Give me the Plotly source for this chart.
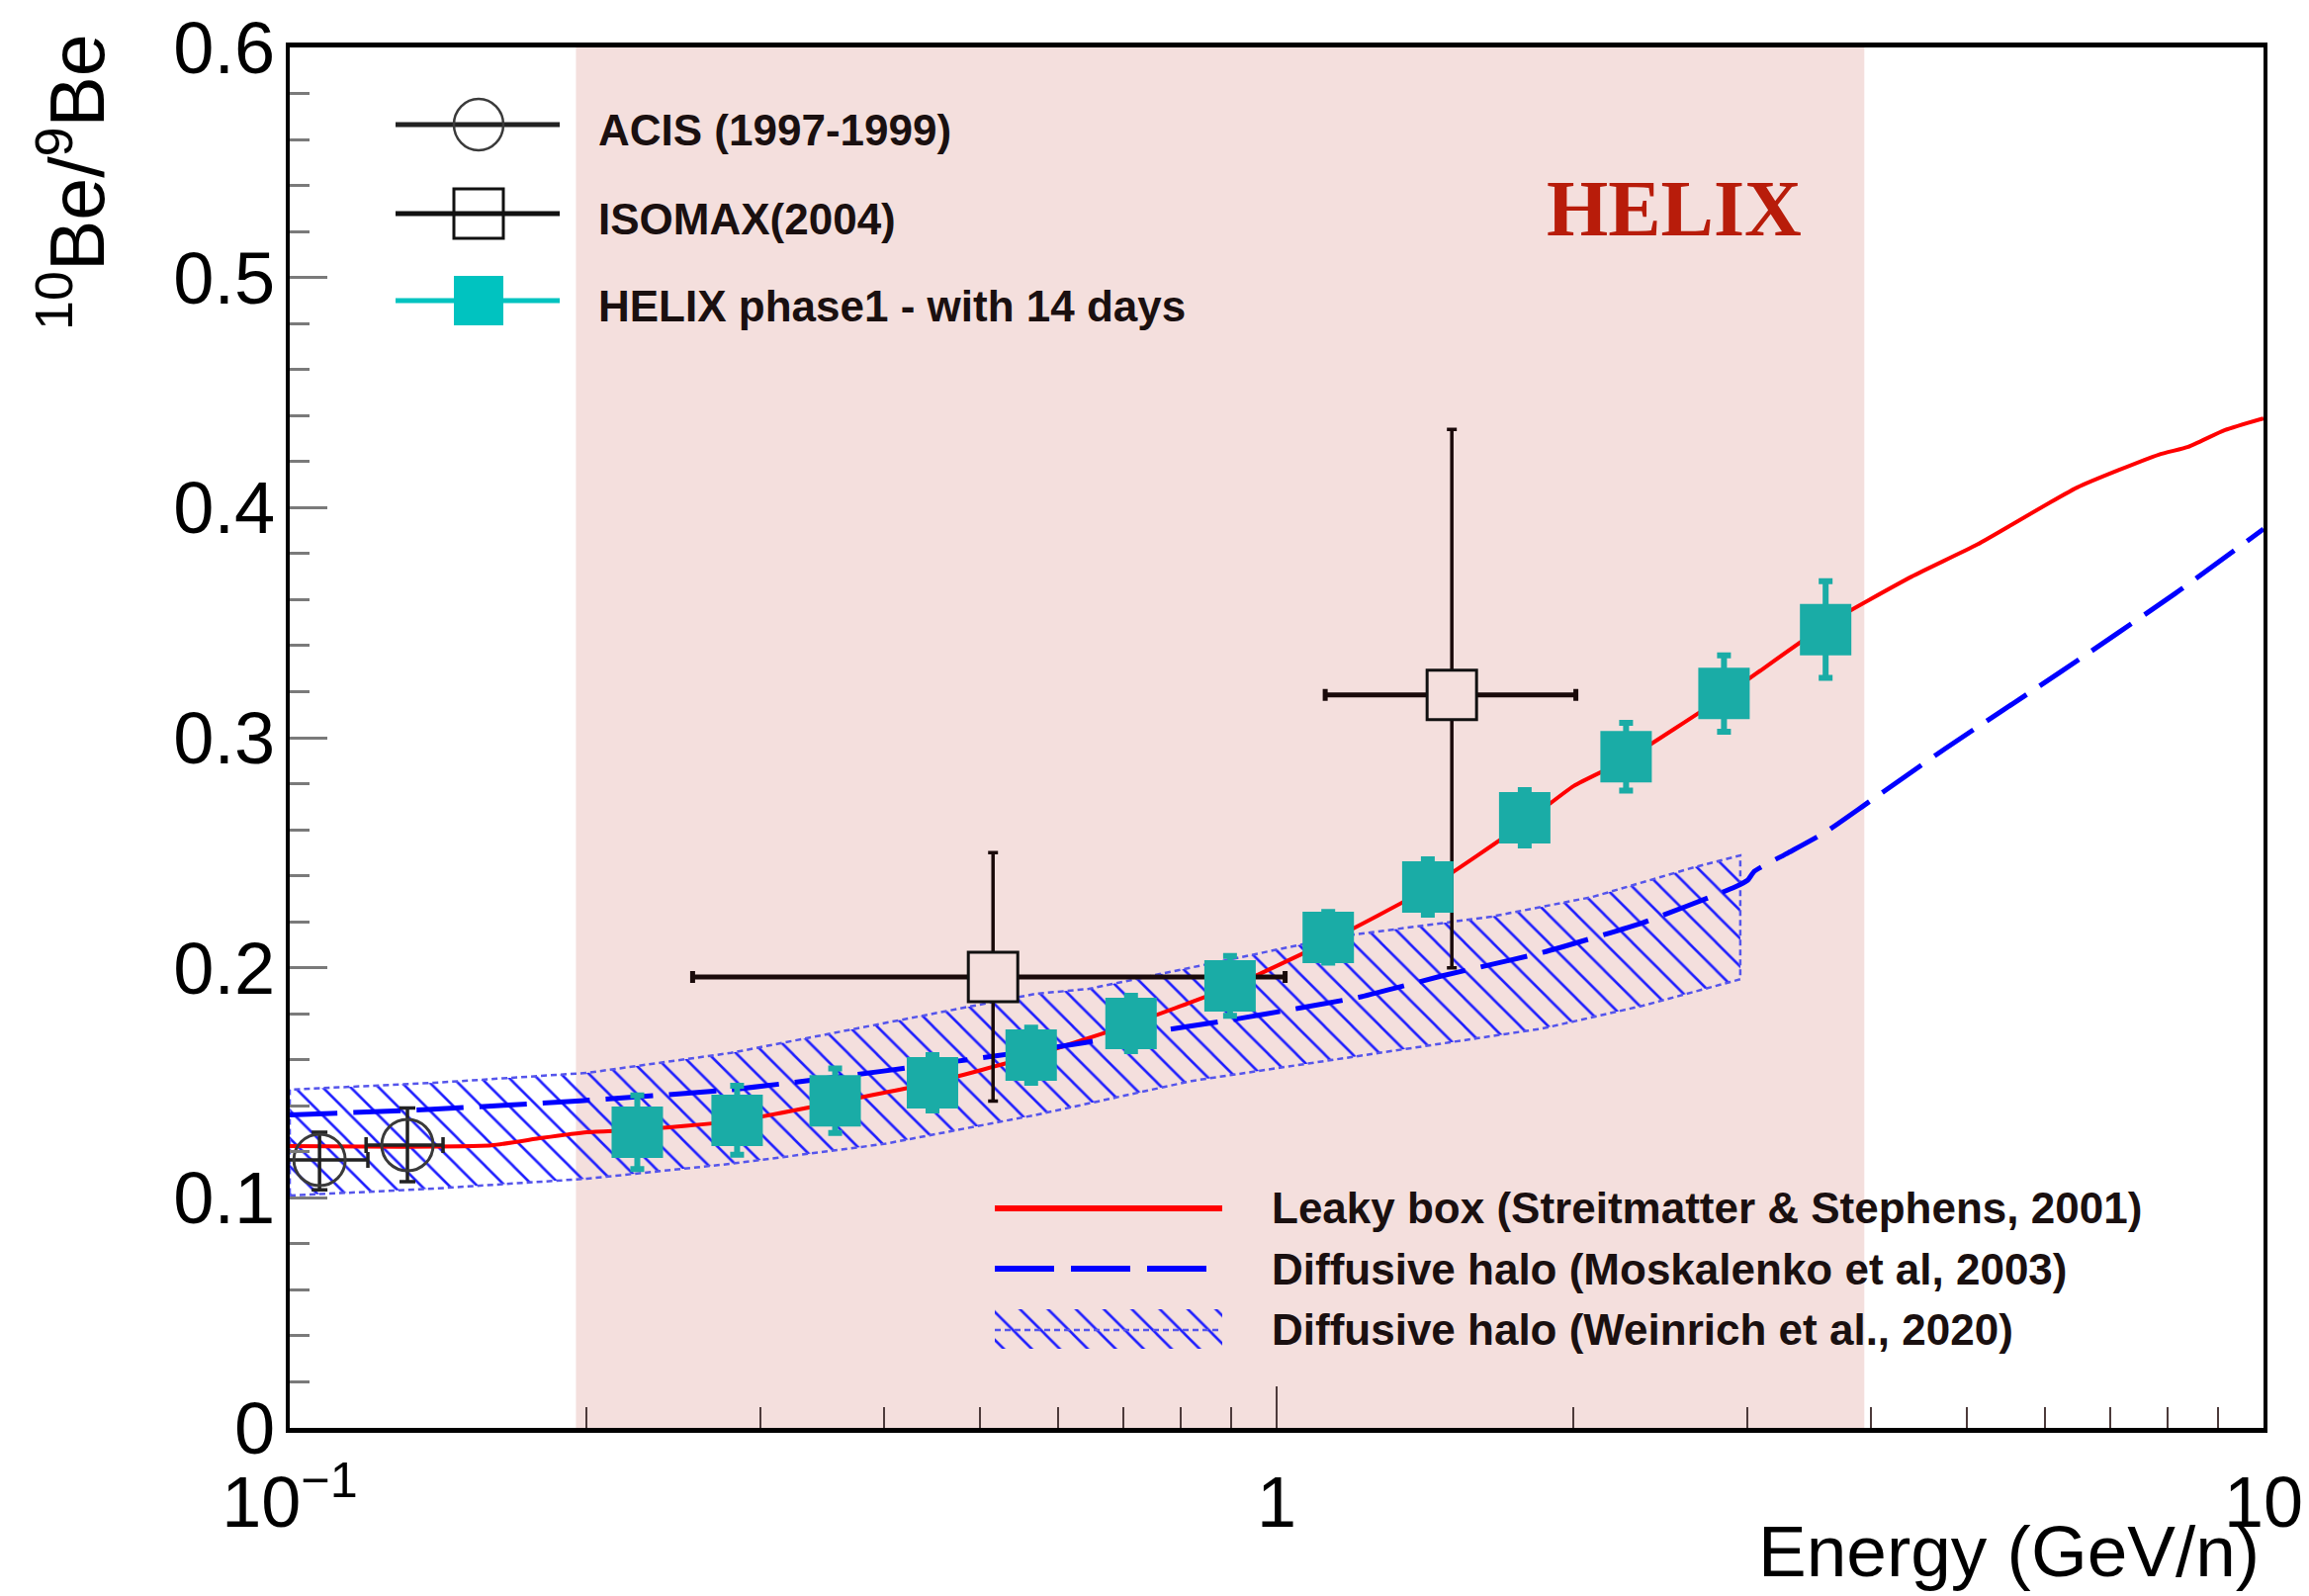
import plotly.graph_objects as go

# ---------------- data ----------------
helix_E = [0.225, 0.284, 0.357, 0.448, 0.564, 0.712, 0.897, 1.128, 1.423, 1.784, 2.26, 2.84, 3.60]
helix_R = [0.1285, 0.1337, 0.1422, 0.150, 0.162, 0.1758, 0.1921, 0.2132, 0.2351, 0.2652, 0.2917, 0.3192, 0.347]
helix_err = [0.016, 0.015, 0.014, 0.012, 0.012, 0.012, 0.013, 0.011, 0.012, 0.012, 0.0147, 0.0166, 0.021]

acis_E = [0.1072, 0.1316]
acis_R = [0.1165, 0.1229]
acis_Rlo = [0.1035, 0.107]
acis_Rhi = [0.1285, 0.139]
acis_Elo = [0.0944, 0.1195]
acis_Ehi = [0.120, 0.143]

isomax_E = [0.516, 1.505]
isomax_R = [0.196, 0.3186]
isomax_Rlo = [0.142, 0.200]
isomax_Rhi = [0.250, 0.434]
isomax_Elo = [0.256, 1.12]
isomax_Ehi = [1.02, 2.01]

leaky_E = [0.1, 0.13, 0.16, 0.18, 0.2, 0.225, 0.284, 0.357, 0.448, 0.564, 0.712, 0.897, 1.128,
           1.423, 1.784, 2.0, 2.26, 2.84, 3.6, 4.4, 5.13, 6.47, 7.83, 8.39, 9.14, 10.0]
leaky_R = [0.1225, 0.1222, 0.1228, 0.126, 0.1285, 0.1295, 0.1335, 0.1415, 0.150, 0.1615, 0.1755,
           0.1915, 0.2115, 0.2345, 0.263, 0.279, 0.2905, 0.318, 0.349, 0.370, 0.384, 0.4087,
           0.423, 0.4264, 0.4337, 0.4388]

mosk_E = [0.1, 0.138, 0.197, 0.28, 0.398, 0.567, 0.72, 0.918, 1.218, 1.469, 1.861, 2.35, 2.91,
          3.0, 3.05, 3.3, 3.6, 3.98, 4.76, 6.22, 8.14, 10.0]
mosk_R = [0.136, 0.1384, 0.1422, 0.147, 0.155, 0.164, 0.171, 0.178, 0.1874, 0.1964, 0.2067,
          0.2196, 0.235, 0.238, 0.242, 0.250, 0.259, 0.272, 0.2953, 0.3284, 0.3627, 0.3907]

wein_lo_E = [0.1, 0.14, 0.2, 0.28, 0.4, 0.57, 0.82, 1.3, 1.86, 2.35, 2.95]
wein_lo_R = [0.101, 0.104, 0.1083, 0.1148, 0.1234, 0.136, 0.1508, 0.1637, 0.1736, 0.1835, 0.195]
wein_hi_E = [0.1, 0.14, 0.2, 0.28, 0.4, 0.57, 0.645, 1.16, 1.65, 2.09, 2.65, 2.95]
wein_hi_R = [0.147, 0.150, 0.1543, 0.163, 0.1758, 0.1887, 0.1908, 0.2136, 0.2222, 0.2308, 0.2437, 0.2488]

helix_range = [0.195, 3.94]
y_range = [0.0, 0.6]

x_tickvals = [0.1, 1, 10]
x_ticktext = ["10<sup>\u22121</sup>", "1", "10"]
x_minor = [0.2, 0.3, 0.4, 0.5, 0.6, 0.7, 0.8, 0.9, 2, 3, 4, 5, 6, 7, 8, 9]

# ---------------- styles ----------------
SHADE = "#f4dfdd"
TEAL = "#1aaca6"
TEAL_LEG = "#00c3c0"
HATCH = "rgb(30,30,255)"
HATCH_EDGE = "rgb(85,85,235)"
FONT = "Liberation Sans, Arial, Helvetica, sans-serif"
TXT = "#1a1010"

W, H = 2335, 1614
L, R, T, B = 293, 2289, 48, 1444


def fx(px):
    return (px - L) / (R - L)


def fy(py):
    return (B - py) / (B - T)


PATTERN = dict(shape="\\", fgcolor=HATCH, bgcolor="rgba(0,0,0,0)",
               size=20, solidity=0.13, fillmode="overlay", fgopacity=1)

fig = go.Figure()

# HELIX energy band shading
fig.add_trace(go.Scatter(
    x=[helix_range[0], helix_range[1], helix_range[1], helix_range[0], helix_range[0]],
    y=[y_range[0], y_range[0], y_range[1], y_range[1], y_range[0]],
    mode="lines", fill="toself", fillcolor=SHADE, line=dict(width=0),
    hoverinfo="skip", showlegend=False))

# Weinrich band (hatched)
band_x = wein_lo_E + wein_hi_E[::-1] + [wein_lo_E[0]]
band_y = wein_lo_R + wein_hi_R[::-1] + [wein_lo_R[0]]
fig.add_trace(go.Scatter(
    x=band_x, y=band_y, mode="lines", fill="toself",
    fillcolor="rgba(0,0,0,0)", fillpattern=PATTERN,
    line=dict(color=HATCH_EDGE, width=2.5, dash="6px,4px"),
    hoverinfo="skip", showlegend=False))

# Leaky box
fig.add_trace(go.Scatter(
    x=leaky_E, y=leaky_R, mode="lines",
    line=dict(color="#ff0000", width=4, shape="spline", smoothing=0.5),
    showlegend=False))

# Moskalenko diffusive halo
fig.add_trace(go.Scatter(
    x=mosk_E, y=mosk_R, mode="lines",
    line=dict(color="#0000ff", width=5, dash="48px,16px", shape="spline", smoothing=0.5),
    showlegend=False))

# ACIS
fig.add_trace(go.Scatter(
    x=acis_E, y=acis_R, mode="markers",
    marker=dict(symbol="circle-open", size=52, color="#3a3a3a", line=dict(width=3)),
    error_x=dict(type="data", symmetric=False,
                 array=[h - e for h, e in zip(acis_Ehi, acis_E)],
                 arrayminus=[e - l for l, e in zip(acis_Elo, acis_E)],
                 color="#222", thickness=3.5, width=8),
    error_y=dict(type="data", symmetric=False,
                 array=[h - r for h, r in zip(acis_Rhi, acis_R)],
                 arrayminus=[r - l for l, r in zip(acis_Rlo, acis_R)],
                 color="#222", thickness=3.5, width=8),
    showlegend=False))

# ISOMAX
fig.add_trace(go.Scatter(
    x=isomax_E, y=isomax_R, mode="markers",
    marker=dict(symbol="square", size=50, color=SHADE, line=dict(color="#111", width=3)),
    error_x=dict(type="data", symmetric=False,
                 array=[h - e for h, e in zip(isomax_Ehi, isomax_E)],
                 arrayminus=[e - l for l, e in zip(isomax_Elo, isomax_E)],
                 color="#1a0a0a", thickness=5, width=6),
    error_y=dict(type="data", symmetric=False,
                 array=[h - r for h, r in zip(isomax_Rhi, isomax_R)],
                 arrayminus=[r - l for l, r in zip(isomax_Rlo, isomax_R)],
                 color="#1a0a0a", thickness=3.5, width=5),
    showlegend=False))

# HELIX phase 1
fig.add_trace(go.Scatter(
    x=helix_E, y=helix_R, mode="markers",
    marker=dict(symbol="square", size=52, color=TEAL, line=dict(width=0)),
    error_y=dict(type="data", array=helix_err, color=TEAL, thickness=6, width=7),
    showlegend=False))

# legend swatch for hatched band (overlay axes in plot-fraction units)
sx0, sx1 = fx(1006), fx(1236)
sy0, sy1 = fy(1364), fy(1324)
fig.add_trace(go.Scatter(
    x=[sx0, sx1, sx1, sx0, sx0], y=[sy0, sy0, sy1, sy1, sy0],
    xaxis="x2", yaxis="y2", mode="lines", fill="toself",
    fillcolor="rgba(0,0,0,0)", fillpattern=PATTERN,
    line=dict(width=0), hoverinfo="skip", showlegend=False))

shapes = []
annotations = []

# ---- legend 1 (top left)
leg1_rows = [126, 216, 304]
leg1_txt_y = [131, 221, 310]
leg1_labels = ["ACIS (1997-1999)", "ISOMAX(2004)", "HELIX phase1 - with 14 days"]
leg1_colors = ["#222", "#111", TEAL_LEG]
mx = 484
for yy, col in zip(leg1_rows, leg1_colors):
    shapes.append(dict(type="line", xref="paper", yref="paper",
                       x0=fx(400), x1=fx(566), y0=fy(yy), y1=fy(yy),
                       line=dict(color=col, width=5)))
shapes.append(dict(type="circle", xref="paper", yref="paper",
                   x0=fx(mx - 25), x1=fx(mx + 25), y0=fy(leg1_rows[0] + 26), y1=fy(leg1_rows[0] - 26),
                   line=dict(color="#3a3a3a", width=2.5)))
shapes.append(dict(type="rect", xref="paper", yref="paper",
                   x0=fx(mx - 25), x1=fx(mx + 25), y0=fy(leg1_rows[1] + 25), y1=fy(leg1_rows[1] - 25),
                   line=dict(color="#111", width=3)))
shapes.append(dict(type="rect", xref="paper", yref="paper",
                   x0=fx(mx - 25), x1=fx(mx + 25), y0=fy(leg1_rows[2] + 25), y1=fy(leg1_rows[2] - 25),
                   line=dict(width=0), fillcolor=TEAL_LEG))
for yy, lab in zip(leg1_txt_y, leg1_labels):
    annotations.append(dict(text="<b>" + lab + "</b>", xref="paper", yref="paper",
                            x=fx(603), y=fy(yy), xanchor="left", yanchor="middle",
                            showarrow=False, font=dict(family=FONT, size=44, color=TXT)))

# ---- legend 2 (bottom right)
leg2_txt_y = [1221, 1283, 1344]
leg2_labels = ["Leaky box (Streitmatter & Stephens, 2001)",
               "Diffusive halo (Moskalenko et al, 2003)",
               "Diffusive halo (Weinrich et al., 2020)"]
shapes.append(dict(type="line", xref="paper", yref="paper",
                   x0=fx(1006), x1=fx(1236), y0=fy(1222), y1=fy(1222),
                   line=dict(color="#ff0000", width=6)))
shapes.append(dict(type="line", xref="paper", yref="paper",
                   x0=fx(1006), x1=fx(1236), y0=fy(1283), y1=fy(1283),
                   line=dict(color="#0000ff", width=6, dash="60px,17px")))
shapes.append(dict(type="line", xref="paper", yref="paper",
                   x0=fx(1006), x1=fx(1236), y0=fy(1345), y1=fy(1345),
                   line=dict(color=HATCH_EDGE, width=2.5, dash="6px,4px")))
for yy, lab in zip(leg2_txt_y, leg2_labels):
    annotations.append(dict(text="<b>" + lab + "</b>", xref="paper", yref="paper",
                            x=fx(1284), y=fy(yy), xanchor="left", yanchor="middle",
                            showarrow=False, font=dict(family=FONT, size=44, color=TXT)))

# ---- HELIX label
annotations.append(dict(text="<b>HELIX</b>", xref="paper", yref="paper",
                        x=fx(1693), y=fy(211), xanchor="center", yanchor="middle",
                        showarrow=False,
                        font=dict(family="Liberation Serif, Times New Roman, serif", size=80,
                                  color="#b81c0a")))

# ---- axis titles
annotations.append(dict(text="Energy (GeV/n)", xref="paper", yref="paper",
                        x=fx(2287), y=fy(1568), xanchor="right", yanchor="middle",
                        showarrow=False, font=dict(family=FONT, size=73, color="black")))
annotations.append(dict(text="<sup>10</sup>Be/<sup>9</sup>Be", xref="paper", yref="paper",
                        x=fx(72), y=fy(184), xanchor="center", yanchor="middle",
                        textangle=-90, showarrow=False,
                        font=dict(family=FONT, size=77, color="black")))

fig.update_layout(
    width=W, height=H,
    margin=dict(l=L, r=W - R, t=T, b=H - B, autoexpand=False),
    paper_bgcolor="white", plot_bgcolor="white",
    showlegend=False,
    shapes=shapes, annotations=annotations,
    xaxis=dict(type="log", range=[-1, 1], tickvals=x_tickvals, ticktext=x_ticktext,
               ticks="inside", ticklen=42, tickwidth=2, tickcolor="#4d3b3b",
               minor=dict(tickvals=x_minor, ticks="inside", ticklen=21, tickwidth=2,
                          tickcolor="#4d3b3b", showgrid=False),
               showline=True, linecolor="black", linewidth=5, mirror=True,
               showgrid=False, zeroline=False, ticklabelstandoff=9,
               tickfont=dict(family=FONT, size=72, color="black")),
    yaxis=dict(range=y_range, tick0=0, dtick=0.1,
               ticks="inside", ticklen=38, tickwidth=3, tickcolor="#7a7a7a",
               minor=dict(dtick=0.02, ticks="inside", ticklen=20, tickwidth=3,
                          tickcolor="#7a7a7a", showgrid=False),
               showline=True, linecolor="black", linewidth=4, mirror=True,
               showgrid=False, zeroline=False, ticklabelstandoff=-4,
               tickfont=dict(family=FONT, size=74, color="black")),
    xaxis2=dict(overlaying="x", range=[0, 1], visible=False, fixedrange=True),
    yaxis2=dict(overlaying="y", range=[0, 1], visible=False, fixedrange=True),
)

fig.write_html("out.html")
